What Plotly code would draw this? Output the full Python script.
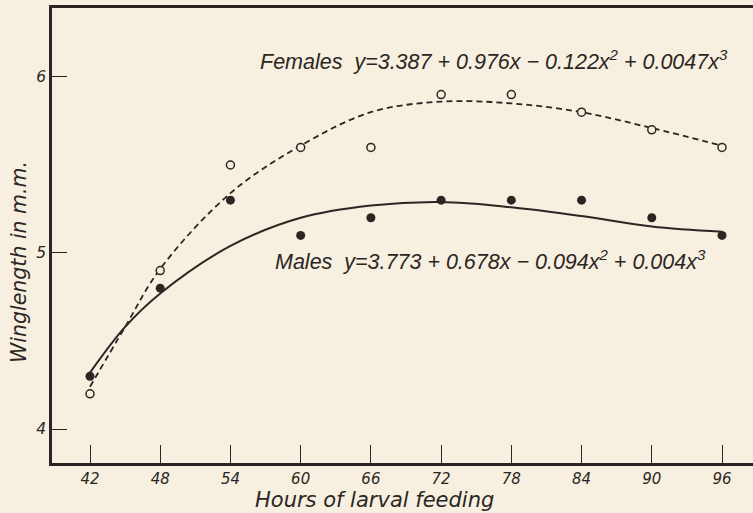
import plotly.graph_objects as go

# ---- data ----
hours = [42, 48, 54, 60, 66, 72, 78, 84, 90, 96]
females = [4.2, 4.9, 5.5, 5.6, 5.6, 5.9, 5.9, 5.8, 5.7, 5.6]
males = [4.3, 4.8, 5.3, 5.1, 5.2, 5.3, 5.3, 5.3, 5.2, 5.1]

# fitted curves
curve_hours = [42, 45, 48, 54, 60, 66, 72, 78, 84, 90, 96]
female_curve = [4.24, 4.58, 4.91, 5.34, 5.61, 5.80, 5.86, 5.85, 5.80, 5.71, 5.61]
male_curve = [4.32, 4.58, 4.77, 5.04, 5.20, 5.27, 5.29, 5.26, 5.21, 5.15, 5.12]

x_ticks = [42, 48, 54, 60, 66, 72, 78, 84, 90, 96]
y_ticks = [4, 5, 6]

female_label = "Females  y=3.387 + 0.976x − 0.122x<sup>2</sup> + 0.0047x<sup>3</sup>"
male_label = "Males  y=3.773 + 0.678x − 0.094x<sup>2</sup> + 0.004x<sup>3</sup>"
x_title = "Hours of larval feeding"
y_title = "Winglength in m.m."

INK = "#2b2623"
BG = "#f7efdf"
FONT = "DejaVu Sans"

fig = go.Figure()

fig.add_trace(go.Scatter(
    x=curve_hours, y=female_curve, mode="lines",
    line=dict(color=INK, width=1.8, dash="6px,4px", shape="spline"),
    hoverinfo="skip", showlegend=False))
fig.add_trace(go.Scatter(
    x=curve_hours, y=male_curve, mode="lines",
    line=dict(color=INK, width=2, shape="spline"),
    hoverinfo="skip", showlegend=False))
fig.add_trace(go.Scatter(
    x=hours, y=females, mode="markers", name="Females",
    marker=dict(symbol="circle", size=8, color=BG,
                line=dict(color=INK, width=1.5)),
    showlegend=False))
fig.add_trace(go.Scatter(
    x=hours, y=males, mode="markers", name="Males",
    marker=dict(symbol="circle", size=9, color=INK,
                line=dict(color=INK, width=0)),
    showlegend=False))

fig.add_annotation(x=56.35, y=6.097, xref="x", yref="y", text=female_label,
                   showarrow=False, xanchor="left", yanchor="middle",
                   font=dict(family="Liberation Sans", size=21.5, color=INK, style="italic"))
fig.add_annotation(x=57.64, y=4.962, xref="x", yref="y", text=male_label,
                   showarrow=False, xanchor="left", yanchor="middle",
                   font=dict(family="Liberation Sans", size=21.5, color=INK, style="italic"))
fig.add_annotation(x=66.35, y=-0.0813, xref="x", yref="paper", text=x_title,
                   showarrow=False, xanchor="center", yanchor="middle",
                   font=dict(family=FONT, size=21, color=INK, style="italic"))
fig.add_annotation(x=-0.047, y=0.442, xref="paper", yref="paper", text=y_title,
                   showarrow=False, xanchor="center", yanchor="middle", textangle=-90,
                   font=dict(family=FONT, size=20.5, color=INK, style="italic"))

fig.update_xaxes(
    range=[38.753, 98.649], tickmode="array", tickvals=x_ticks,
    ticktext=[str(v) for v in x_ticks],
    ticks="inside", ticklen=18, tickwidth=1.2, tickcolor=INK,
    showline=True, linecolor=INK, linewidth=2.5, mirror=True,
    showgrid=False, zeroline=False,
    tickfont=dict(family=FONT, size=15, color=INK, style="italic"))
fig.update_yaxes(
    range=[3.8068, 6.392], tickmode="array", tickvals=y_ticks,
    ticktext=[str(v) for v in y_ticks],
    ticks="inside", ticklen=15, tickwidth=1.2, tickcolor=INK,
    showline=True, linecolor=INK, linewidth=2.5, mirror=False,
    showgrid=False, zeroline=False,
    tickfont=dict(family=FONT, size=15.5, color=INK, style="italic"))

fig.update_layout(
    width=753, height=513,
    margin=dict(l=52, r=0, t=8, b=50),
    paper_bgcolor=BG, plot_bgcolor=BG,
    showlegend=False)

fig.write_html(
    "out.html",
    config={"displayModeBar": False},
    post_script="document.body.style.margin='0';document.body.style.background='%s';" % BG,
)
